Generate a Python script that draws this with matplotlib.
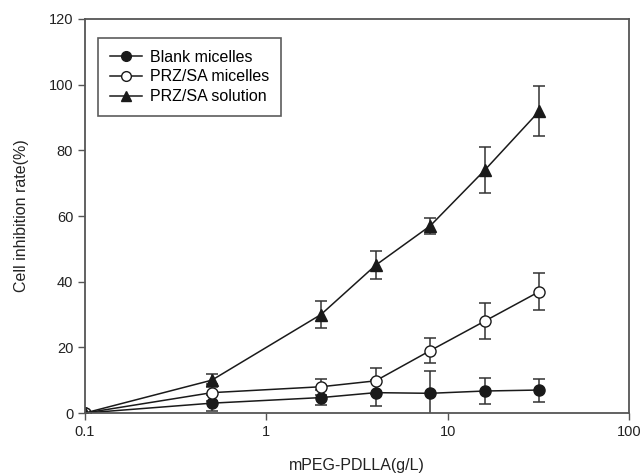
import matplotlib
matplotlib.use("Agg")
import matplotlib.pyplot as plt
from matplotlib.ticker import FixedLocator, NullLocator
from matplotlib.lines import Line2D

plt.rcParams['font.family'] = ['Liberation Sans', 'DejaVu Sans']

# concentrations (g/L)
conc = [0.1, 0.5, 2, 4, 8, 16, 32]

# inhibition rate (%) and error bars
blank = [0, 3, 4.7, 6.2, 6, 6.7, 7]
blank_err = [0, 2.5, 2.2, 4, 6.7, 4, 3.5]
prz_mic = [0, 6.2, 8, 9.8, 19, 28, 37]
prz_mic_err = [0, 2.5, 2.5, 4, 3.8, 5.4, 5.7]
prz_sol = [0, 10, 30, 45, 57, 74, 92]
prz_sol_err = [0, 2, 4, 4.2, 2.5, 7, 7.5]

labels = ["Blank micelles", "PRZ/SA micelles", "PRZ/SA solution"]

col = "#1a1a1a"

fig = plt.figure(figsize=(6.44, 4.75), dpi=100)
ax = fig.add_axes([0.132, 0.1305, 0.845, 0.8295])

common = dict(color=col, ecolor="#333333", elinewidth=1.1, capsize=4.5,
              capthick=1.1, lw=1.1, ms=8)
ax.errorbar(conc, blank, yerr=blank_err, fmt='-o', mfc=col, mec=col, **common)
ax.errorbar(conc, prz_mic, yerr=prz_mic_err, fmt='-o', mfc='white', mec=col, **common)
ax.errorbar(conc, prz_sol, yerr=prz_sol_err, fmt='-^', mfc=col, mec=col, **common)

ax.set_xscale('log')
ax.set_xlim(0.1, 100)
ax.set_ylim(0, 120)
ax.xaxis.set_major_locator(FixedLocator([0.1, 1, 10, 100]))
ax.xaxis.set_minor_locator(NullLocator())
ax.set_xticklabels(["0.1", "1", "10", "100"])
ax.set_yticks(range(0, 121, 20))

for s in ax.spines.values():
    s.set_color("#555555")
    s.set_linewidth(1.3)
ax.tick_params(direction='out', length=5, width=1, colors="#555555",
               labelcolor="#222222", labelsize=10.5)

ax.set_xlabel("mPEG-PDLLA(g/L)", fontsize=11.5, color="#222222", labelpad=14)
ax.set_ylabel("Cell inhibition rate(%)", fontsize=11.5, color="#222222", labelpad=14)

handles = [
    Line2D([], [], color=col, lw=1.1, marker='o', ms=7, mfc=col, mec=col),
    Line2D([], [], color=col, lw=1.1, marker='o', ms=7, mfc='white', mec=col),
    Line2D([], [], color=col, lw=1.1, marker='^', ms=7, mfc=col, mec=col),
]
leg = ax.legend(handles, labels, loc='upper left', bbox_to_anchor=(0.015, 0.965),
                fontsize=11.5, frameon=True, fancybox=False, edgecolor="#333333",
                handlelength=2.0, borderpad=0.75, labelspacing=0.3,
                handletextpad=0.5, borderaxespad=0.3)
leg.get_frame().set_linewidth(1.2)

fig.savefig("out.png", dpi=100)
